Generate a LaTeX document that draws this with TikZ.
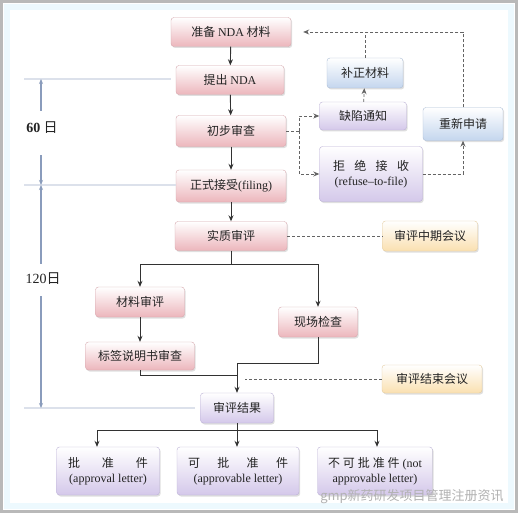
\documentclass[tikz,border=0pt]{standalone}
\usepackage{fontspec}
\setmainfont{Liberation Serif}
\newfontfamily\cjk{Noto Sans CJK SC}
\usepackage{tikz}
\usetikzlibrary{arrows.meta, positioning, calc, shadows}
\definecolor{pinkfill}{RGB}{236, 182, 188}
\definecolor{pinkline}{RGB}{214, 168, 174}
\definecolor{bluefill}{RGB}{196, 214, 238}
\definecolor{blueline}{RGB}{172, 190, 214}
\definecolor{lilacfill}{RGB}{212, 200, 234}
\definecolor{lilacline}{RGB}{188, 178, 214}
\definecolor{orangefill}{RGB}{250, 224, 176}
\definecolor{orangeline}{RGB}{228, 204, 160}
\definecolor{textgray}{RGB}{35, 35, 35}
\definecolor{linegray}{RGB}{50, 50, 50}
\definecolor{dashgray}{RGB}{100, 100, 100}
\definecolor{dimblue}{RGB}{138, 156, 188}
\newcommand{\eng}[1]{{\rmfamily #1}}
\tikzstyle{basebox} = [rounded corners=3pt, inner sep=2pt, align=center, text=textgray,
                       font=\cjk\fontsize{12}{15}\selectfont,
                       drop shadow={opacity=0.25, shadow xshift=1.2pt, shadow yshift=-1.5pt}]
\tikzstyle{pinkbox} = [basebox, draw=pinkline, top color=white, bottom color=pinkfill]
\tikzstyle{bluebox} = [basebox, draw=blueline, top color=white, bottom color=bluefill]
\tikzstyle{lilacbox} = [basebox, draw=lilacline, top color=white, bottom color=lilacfill]
\tikzstyle{orangebox} = [basebox, draw=orangeline, top color=white, bottom color=orangefill]
\tikzstyle{flow} = [draw=linegray, line width=0.9pt, -{Stealth[length=6pt, width=5pt]}]
\tikzstyle{flowline} = [draw=linegray, line width=0.9pt]
\tikzstyle{dashflow} = [draw=dashgray, line width=0.8pt, dash pattern=on 3pt off 2pt,
                        -{Stealth[length=6pt, width=5pt]}]
\tikzstyle{dashline} = [draw=dashgray, line width=0.8pt, dash pattern=on 3pt off 2pt]
\tikzstyle{dimline} = [draw=dimblue, line width=0.7pt, double=white!70!dimblue, double distance=1.2pt]
\tikzstyle{dimarrow} = [draw=dimblue, line width=1.2pt, -{Stealth[length=5pt, width=4pt]}]
\tikzstyle{daytext} = [font=\cjk\fontsize{14}{16}\selectfont, text=textgray, inner sep=1pt]

\begin{document}
\begin{tikzpicture}[x=1pt, y=-1pt]
                    \useasboundingbox (0,0) rectangle (518,513);
                    \fill[white] (0,0) rectangle (518,513);
                    \draw[cyan!7, line width=6pt] (7,7) rectangle (511,506);
                    \draw[gray!55, line width=3pt] (1.5,1.5) rectangle (516.5,511.5);
                    % main column
                    \node[pinkbox, minimum width=120pt, minimum height=29pt] (prep) at (231,32) {准备 \eng{NDA} 材料};
                    \node[pinkbox, minimum width=108pt, minimum height=29pt] (submit) at (230,80) {提出 \eng{NDA}};
                    \node[pinkbox, minimum width=110pt, minimum height=31pt] (prelim) at (231,131) {初步审查};
                    \node[pinkbox, minimum width=110pt, minimum height=32pt] (filing) at (231,186) {正式接受\eng{(filing)}};
                    \node[pinkbox, minimum width=112pt, minimum height=29pt] (subrev) at (231,236) {实质审评};
                    % deficiency / refuse-to-file loop
                    \node[bluebox, minimum width=76pt, minimum height=30pt] (supp) at (365,73) {补正材料};
                    \node[lilacbox, minimum width=87pt, minimum height=28pt] (defic) at (363,116) {缺陷通知};
                    \node[bluebox, minimum width=80pt, minimum height=33pt] (resub) at (463,124) {重新申请};
                    \node[lilacbox, minimum width=103pt, minimum height=55pt] (rtf) at (371,174)
                        {\makebox[76pt][s]{拒\hfill 绝\hfill 接\hfill 收}\\\eng{(refuse–to-file)}};
                    \node[orangebox, minimum width=95pt, minimum height=30pt] (midmeet) at (430,236) {审评中期会议};
                    % review branches
                    \node[pinkbox, minimum width=89pt, minimum height=30pt] (matrev) at (140,302) {材料审评};
                    \node[pinkbox, minimum width=109pt, minimum height=28pt] (labelrev) at (140,356) {标签说明书审查};
                    \node[pinkbox, minimum width=79pt, minimum height=30pt] (onsite) at (318,322) {现场检查};
                    \node[lilacbox, minimum width=73pt, minimum height=30pt] (result) at (237,408) {审评结果};
                    \node[orangebox, minimum width=100pt, minimum height=28pt] (endmeet) at (432,379) {审评结束会议};
                    % outcomes
                    \node[lilacbox, minimum width=103pt, minimum height=48pt] (appr) at (108,471)
                        {\makebox[80pt][s]{批\hfill 准\hfill 件}\\\eng{(approval letter)}};
                    \node[lilacbox, minimum width=122pt, minimum height=48pt] (apprble) at (238,471)
                        {\makebox[100pt][s]{可\hfill 批\hfill 准\hfill 件}\\\eng{(approvable letter)}};
                    \node[lilacbox, minimum width=115pt, minimum height=48pt] (notappr) at (375,471)
                        {\makebox[94pt][s]{不\hfill 可\hfill 批\hfill 准\hfill 件\hfill\eng{(not}}\\\eng{approvable letter)}};
                    % time marks
                    \coordinate (mark0) at (24,79);
                    \coordinate (mark1) at (24,185);
                    \coordinate (mark2) at (24,408);
                    \draw[dimline] (mark0) -- ([xshift=-5pt]submit.west |- mark0);
                    \draw[dimline] (mark1) -- (filing.west |- mark1);
                    \draw[dimline] (mark2) -- ([xshift=-5pt]result.west |- mark2);
                    \node[daytext] (d60) at (42,128) {\eng{\bfseries 60} 日};
                    \node[daytext] (d120) at (43,279) {\eng{120}日};
                    \draw[dimarrow, shorten <=10pt] ([xshift=-1pt]d60.north) -- ([xshift=-1pt]d60.north |- mark0);
                    \draw[dimarrow, shorten <=20pt] ([xshift=-1pt]d60.south) -- ([xshift=-1pt]d60.south |- mark1);
                    \draw[dimarrow, shorten <=8pt] ([xshift=-2pt]d120.north) -- ([xshift=-2pt]d120.north |- mark1);
                    \draw[dimarrow, shorten <=10pt] ([xshift=-2pt]d120.south) -- ([xshift=-2pt]d120.south |- mark2);
                    % connectors
                    \draw[flow] (prep) -- (submit);
                    \draw[flow] (submit) -- (prelim);
                    \draw[flow] (prelim) -- (filing);
                    \draw[flow] (filing) -- (subrev);
                    \coordinate (split) at (299,131);
                    \draw[dashline] (prelim.east) -- (split);
                    \draw[dashflow] (split) |- (defic.west);
                    \draw[dashflow] (split) |- (rtf.west);
                    \draw[dashflow] (defic) -- (supp);
                    \draw[dashline] (supp.north) -- (supp.north |- prep.east);
                    \draw[dashflow, shorten >=12pt] (resub.north) |- (prep.east);
                    \draw[dashflow] (rtf.east) -| (resub.south);
                    \draw[dashline] (subrev.east) -- (midmeet.west);
                    \coordinate (fork) at (231,264);
                    \draw[flowline] (subrev.south) -- (fork);
                    \draw[flow] (fork) -| (matrev.north);
                    \draw[flow] (fork) -| (onsite.north);
                    \draw[flow] (matrev) -- (labelrev);
                    \coordinate (joinA) at (237,363);
                    \coordinate (joinB) at (237,375);
                    \draw[flowline] (onsite.south) |- (joinA);
                    \draw[flowline] (labelrev.south) |- (joinB);
                    \draw[flow] (joinA) -- (result.north);
                    \draw[dashline, shorten >=8pt] (endmeet.west) -- (result.north |- endmeet.west);
                    \coordinate (fork2) at (237,430);
                    \draw[flowline] (result.south) -- (fork2);
                    \draw[flow] (fork2) -| ([xshift=-11pt]appr.north);
                    \draw[flow] (fork2) -- (fork2 |- apprble.north);
                    \draw[flow] (fork2) -| ([xshift=2pt]notappr.north);
                    % watermark
                    \node[font=\cjk\fontsize{13}{13}\selectfont, text=gray!60] (wmark) at (412,497) {gmp新药研发项目管理注册资讯};
                \end{tikzpicture}
\end{document}
